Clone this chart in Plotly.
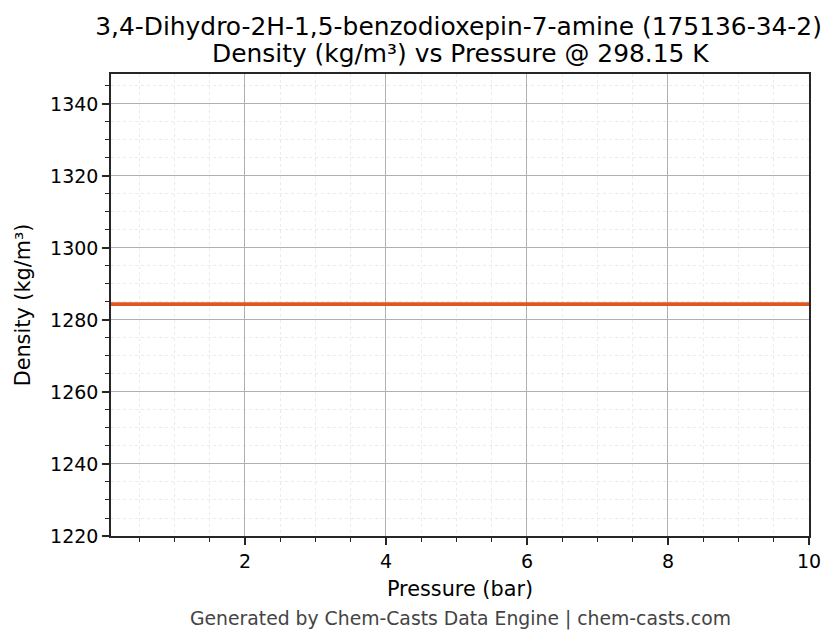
import plotly.graph_objects as go

pressure_bar = [0.1, 1.0, 2.0, 3.0, 4.0, 5.0, 6.0, 7.0, 8.0, 9.0, 10.0]
density_kgm3 = [1284.4, 1284.4, 1284.4, 1284.4, 1284.4, 1284.4, 1284.4, 1284.4, 1284.4, 1284.4, 1284.4]

title_line1 = "3,4-Dihydro-2H-1,5-benzodioxepin-7-amine (175136-34-2)"
title_line2 = "Density (kg/m³) vs Pressure @ 298.15 K"
footer = "Generated by Chem-Casts Data Engine | chem-casts.com"

FONT = "DejaVu Sans"

fig = go.Figure()
fig.add_trace(go.Scatter(x=pressure_bar, y=density_kgm3, mode="lines",
                         line=dict(color="#E0561F", width=3.6), showlegend=False))

axis_common = dict(
    showline=True, linecolor="#262626", linewidth=1.5, mirror=True,
    ticks="outside", ticklen=7, tickwidth=1.5, tickcolor="#262626",
    showgrid=True, gridcolor="#b0b0b0", gridwidth=1,
    zeroline=False,
    tickfont=dict(family=FONT, size=19, color="#000"),
)

fig.update_xaxes(**axis_common, range=[0.1, 10], tick0=0, dtick=2,
                 title=dict(text="Pressure (bar)", font=dict(family=FONT, size=20.8, color="#000"), standoff=11),
                 minor=dict(tick0=0, dtick=0.5, ticks="outside", ticklen=4, tickwidth=1.1, tickcolor="#262626",
                            showgrid=True, gridcolor="#ebebeb", griddash="dot", gridwidth=0.8))
fig.update_yaxes(**axis_common, range=[1220, 1348.3], tick0=1220, dtick=20,
                 title=dict(text="Density (kg/m³)", font=dict(family=FONT, size=20.8, color="#000"), standoff=14),
                 minor=dict(tick0=1220, dtick=5, ticks="outside", ticklen=4, tickwidth=1.1, tickcolor="#262626",
                            showgrid=True, gridcolor="#ebebeb", griddash="dot", gridwidth=0.8))

fig.update_layout(
    width=832, height=636,
    margin=dict(l=103, r=31, t=66, b=108),
    paper_bgcolor="white", plot_bgcolor="white",
    title=dict(text=title_line1, x=0.5415, xanchor="center", y=0.9717, yanchor="middle",
               font=dict(family=FONT, size=24.9, color="#000")),
    annotations=[
        dict(text=title_line2, xref="paper", yref="paper", x=0.5, y=1.0433,
             xanchor="center", yanchor="middle", showarrow=False,
             font=dict(family=FONT, size=24.9, color="#000")),
        dict(text=footer, xref="paper", yref="paper", x=0.5, y=-0.18,
             xanchor="center", yanchor="middle", showarrow=False,
             font=dict(family=FONT, size=18.8, color="#444")),
    ],
)

fig.write_html("out.html")
